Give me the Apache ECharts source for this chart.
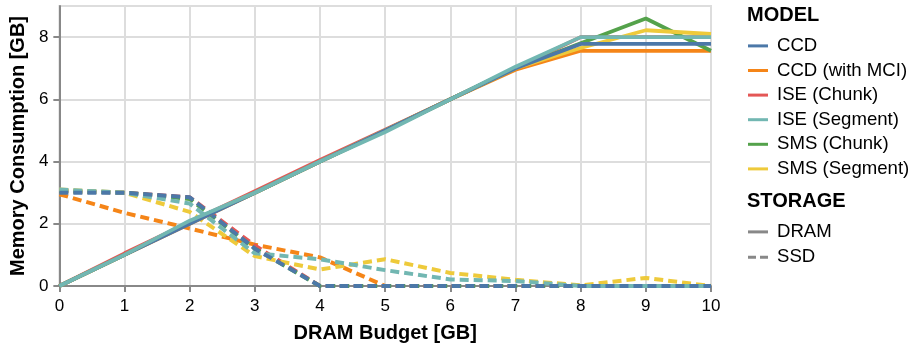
<!DOCTYPE html>
<html>
<head>
<meta charset="utf-8">
<script src="https://cdn.jsdelivr.net/npm/echarts@6/dist/echarts.min.js"></script>
<style>
  html, body { margin: 0; padding: 0; background: #fff; }
  #chart { width: 912px; height: 349px; }
</style>
</head>
<body>
<div id="chart"></div>
<script>
// DRAM budget (GB) on the x axis
const budget = [0, 1, 2, 3, 4, 5, 6, 7, 8, 9, 10];
const yTicks = [0, 2, 4, 6, 8];

const models = ['CCD', 'CCD (with MCI)', 'ISE (Chunk)', 'ISE (Segment)', 'SMS (Chunk)', 'SMS (Segment)'];
const modelColors = ['#4c78a8', '#f58518', '#e45756', '#72b7b2', '#54a24b', '#eeca3b'];

// Memory held in DRAM (GB)
const dramCCD        = [0, 1.0, 2.0, 3.0, 4.0, 5.0, 6.0, 7.0, 7.78, 7.78, 7.78];
const dramCCDMCI     = [0, 1.0, 2.0, 3.0, 4.0, 5.0, 6.0, 6.95, 7.56, 7.56, 7.56];
const dramISEChunk   = [0, 1.05, 2.05, 3.05, 4.05, 5.02, 6.0, 7.0, 8.0, 8.0, 8.0];
const dramISESegment = [0, 1.0, 2.1, 3.0, 4.0, 4.95, 6.0, 7.05, 8.0, 8.0, 8.0];
const dramSMSChunk   = [0, 1.0, 2.05, 3.0, 4.0, 5.0, 6.0, 7.0, 7.8, 8.6, 7.56];
const dramSMSSegment = [0, 1.0, 2.05, 3.0, 4.0, 5.0, 6.0, 7.0, 7.65, 8.22, 8.1];

// Memory spilled to SSD (GB)
const ssdCCD        = [3.0, 3.0, 2.85, 1.2, 0, 0, 0, 0, 0, 0, 0];
const ssdCCDMCI     = [2.95, 2.35, 1.85, 1.33, 0.92, 0, 0, 0, 0, 0, 0];
const ssdISEChunk   = [3.05, 3.0, 2.85, 1.3, 0, 0, 0, 0, 0, 0, 0];
const ssdISESegment = [3.1, 3.0, 2.65, 1.05, 0.86, 0.51, 0.21, 0.16, 0, 0, 0];
const ssdSMSChunk   = [3.05, 3.0, 2.8, 1.2, 0, 0, 0, 0, 0, 0, 0];
const ssdSMSSegment = [3.1, 3.0, 2.38, 0.96, 0.53, 0.86, 0.42, 0.2, 0.02, 0.26, 0];

const dramData = [dramCCD, dramCCDMCI, dramISEChunk, dramISESegment, dramSMSChunk, dramSMSSegment];
const ssdData  = [ssdCCD, ssdCCDMCI, ssdISEChunk, ssdISESegment, ssdSMSChunk, ssdSMSSegment];

// drawing order (later on top)
const ssdOrder  = [1, 2, 4, 5, 3, 0];
const dramOrder = [1, 2, 4, 5, 0, 3];

const pairs = d => budget.map((b, i) => [b, d[i]]);

const series = [];
ssdOrder.forEach(i => {
  series.push({
    name: models[i], type: 'line', data: pairs(ssdData[i]),
    showSymbol: false, symbol: 'none', color: modelColors[i],
    lineStyle: { width: 4, type: [9, 5], color: modelColors[i] },
    emphasis: { disabled: true }, animation: false
  });
});
dramOrder.forEach(i => {
  series.push({
    name: models[i], type: 'line', data: pairs(dramData[i]),
    showSymbol: false, symbol: 'none', color: modelColors[i],
    lineStyle: { width: 3.8, type: 'solid', color: modelColors[i] },
    emphasis: { disabled: true }, animation: false
  });
});
// storage legend entries
series.push({ name: 'DRAM', type: 'line', data: [], color: '#888', symbol: 'none' });
series.push({ name: 'SSD', type: 'line', data: [], color: '#888', symbol: 'none' });

const legendText = { fontFamily: 'Liberation Sans', fontSize: 18.6, color: '#000', padding: [0, 0, 0, 4] };
const legendTitle = { fontFamily: 'Liberation Sans', fontSize: 20, fontWeight: 'bold', color: '#000' };

const option = {
  animation: false,
  textStyle: { fontFamily: 'Liberation Sans' },
  grid: {
    left: 58, right: 201, top: 6, bottom: 63,
    show: true, borderColor: '#ddd', borderWidth: 2
  },
  title: [
    { text: 'MODEL', left: 747, top: 5, padding: 0, textStyle: legendTitle },
    { text: 'STORAGE', left: 747, top: 191.5, padding: 0, textStyle: legendTitle }
  ],
  legend: [
    {
      data: models.map(m => ({ name: m, icon: 'rect' })),
      orient: 'vertical', left: 748, top: 36.4, padding: 0,
      itemWidth: 20, itemHeight: 3, itemGap: 5.6,
      textStyle: legendText, selectedMode: false
    },
    {
      data: [
        { name: 'DRAM', icon: 'rect' },
        { name: 'SSD', icon: 'path://M0,0h8v3h-8z M12,0h8v3h-8z' }
      ],
      orient: 'vertical', left: 748, top: 222.4, padding: 0,
      itemWidth: 20, itemHeight: 3, itemGap: 6.4,
      textStyle: legendText, selectedMode: false
    }
  ],
  xAxis: {
    type: 'value', min: 0, max: 10, interval: 1,
    name: 'DRAM Budget [GB]', nameLocation: 'middle', nameGap: 37,
    nameTextStyle: { fontFamily: 'Liberation Sans', fontSize: 20, fontWeight: 'bold', color: '#000' },
    axisLine: { lineStyle: { color: '#888', width: 2 } },
    axisTick: { length: 6, lineStyle: { color: '#888', width: 2 } },
    axisLabel: { fontFamily: 'Liberation Sans', fontSize: 17, color: '#000', margin: 12 },
    splitLine: { show: true, lineStyle: { color: '#ddd', width: 2 } }
  },
  yAxis: {
    type: 'value', min: 0, max: 9, interval: 2,
    name: 'Memory Consumption [GB]', nameLocation: 'middle', nameGap: 28,
    nameTextStyle: { fontFamily: 'Liberation Sans', fontSize: 20, fontWeight: 'bold', color: '#000' },
    axisLine: { show: true, lineStyle: { color: '#888', width: 2 } },
    axisTick: { show: true, length: 6, customValues: yTicks, lineStyle: { color: '#888', width: 2 } },
    axisLabel: { fontFamily: 'Liberation Sans', fontSize: 17, color: '#000', margin: 11, customValues: yTicks },
    splitLine: { show: true, lineStyle: { color: '#ddd', width: 2 } }
  },
  series: series
};

const chart = echarts.init(document.getElementById('chart'), null, { renderer: 'canvas' });
chart.setOption(option);
</script>
</body>
</html>
